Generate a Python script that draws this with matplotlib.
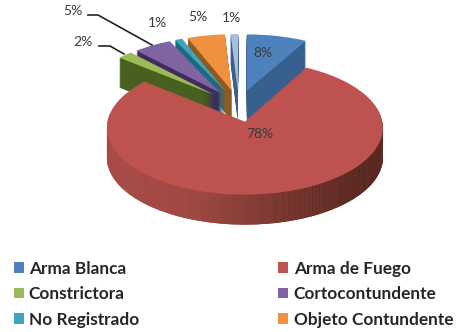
import matplotlib
matplotlib.use("Agg")
import numpy as np
import matplotlib.pyplot as plt
from matplotlib.colors import LinearSegmentedColormap
from matplotlib.patches import Patch
from matplotlib.transforms import Transform

categories = ["Arma Blanca", "Arma de Fuego", "Constrictora", "Cortocontundente",
              "No Registrado", "Objeto Contundente", "Otro"]
values = [8, 78, 2, 5, 1, 5, 1]
labels = ["8%", "78%", "2%", "5%", "1%", "5%", "1%"]
colors = ["#4f81bd", "#bd524e", "#9bbb59", "#8064a2", "#3fa5bd", "#f0913f", "#a5bfe4"]
wall_colors = ["#38608f", "#96403d", "#48601f", "#3f2b5e", "#1d6a80", "#8f5a22", "#3d5f8f"]
legend_order = [0, 2, 4, 1, 3, 5]  # legend fills by column, reference reads by row

DEPTH = 30
RED = 1


class TiltedPie(Transform):
    # flat pie coordinates to picture pixels, with some perspective
    input_dims = 2
    output_dims = 2

    def __init__(self, drop=0):
        super().__init__()
        self.drop = drop

    def transform_non_affine(self, xy):
        xy = np.asarray(xy, dtype=float)
        p = 1 / (1 + 0.089 * xy[:, 1])
        return np.column_stack([245 + 137.5 * xy[:, 0] * p,
                                122 - 66.5 * xy[:, 1] * p + self.drop])


plt.rcParams["font.family"] = ["Lato", "DejaVu Sans"]
fig = plt.figure(figsize=(4.6, 3.32), dpi=100)
ax = fig.add_axes([0, 0, 1, 1])


def draw_pie(cols, drop):
    wedges, _ = ax.pie(values, colors=cols, startangle=90, counterclock=False,
                       explode=[0.25] * len(values), center=(-0.0475, 0.25), radius=1,
                       wedgeprops={"linewidth": 0})
    for w in wedges:
        w.set_transform(TiltedPie(drop) + ax.transData)
    return wedges


def only(keep, base):
    return [c if i in keep else "none" for i, c in enumerate(base)]


back = [0, 6, 5, 4, 3, 2]
for d in range(DEPTH, 0, -1):
    draw_pie(only(back, wall_colors), d)
draw_pie(only(back, colors), 0)

# red side gets darker to the right
shade = LinearSegmentedColormap.from_list("shade", ["#b0524e", "#a04a45", "#6e352c", "#46201a"])
gradient = np.linspace(0, 1, 256)[None, :]
for d in range(DEPTH, 0, -1):
    wedges = draw_pie(only([RED], wall_colors), d)
    im = ax.imshow(gradient, cmap=shade, extent=(107, 383, 260, 60), aspect="auto", zorder=1)
    im.set_clip_path(wedges[RED])
top = draw_pie(only([RED], colors), 0)
for w in top:
    w.set_zorder(2)

ax.set_aspect("auto")
ax.set_xlim(0, 460)
ax.set_ylim(332, 0)
ax.axis("off")

label_pos = [(263, 53), (260, 134), (83, 42), (73, 11), (157, 23), (198, 17), (231, 18)]
for txt, (x, y) in zip(labels, label_pos):
    ax.text(x, y, txt, ha="center", va="center", fontsize=10, color="#3a3a3a", zorder=3)

ax.plot([88, 98, 152], [15, 15, 45], color="#222222", lw=1.2, zorder=3)
ax.plot([99, 110, 124], [46, 46, 54], color="#222222", lw=1.2, zorder=3)

# only six entries fit in the legend
handles = [Patch(facecolor=colors[i]) for i in legend_order]
names = [categories[i] for i in legend_order]
leg = fig.legend(handles, names, ncol=2, loc="lower left", bbox_to_anchor=(0.022, 0.003),
                 frameon=False, fontsize=12.4, columnspacing=8.1, handlelength=0.58,
                 handleheight=0.58, handletextpad=0.3, labelspacing=0.55, borderpad=0.2,
                 borderaxespad=0)
for t in leg.get_texts():
    t.set_color("#262626")
    t.set_fontweight("bold")

fig.savefig("out.png", dpi=100)
